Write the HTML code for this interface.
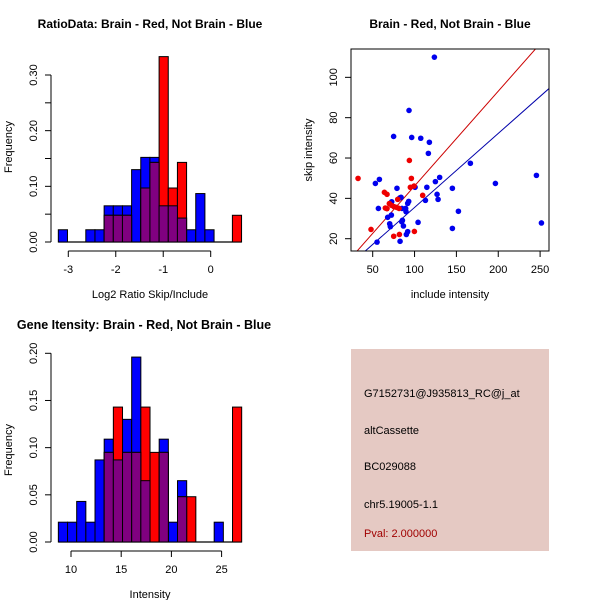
<!DOCTYPE html>
<html><head><meta charset="utf-8"><style>
body{margin:0;background:#fff;}
svg{display:block;font-family:"Liberation Sans",sans-serif;}
text{fill:#000;}
</style></head><body>
<svg id="s" width="600" height="600" xmlns="http://www.w3.org/2000/svg">
<text x="150" y="28" font-size="12" font-weight="bold" text-anchor="middle">RatioData: Brain - Red, Not Brain - Blue</text>
<text x="450" y="28" font-size="12" font-weight="bold" text-anchor="middle">Brain - Red, Not Brain - Blue</text>
<text x="144" y="329" font-size="12.5" font-weight="bold" text-anchor="middle">Gene Itensity: Brain - Red, Not Brain - Blue</text>
<text x="150" y="298" font-size="11" text-anchor="middle">Log2 Ratio Skip/Include</text>
<text x="0" y="0" font-size="11" text-anchor="middle" transform="translate(12,147) rotate(-90)">Frequency</text>
<text x="450" y="298" font-size="11" text-anchor="middle">include intensity</text>
<text x="0" y="0" font-size="11" text-anchor="middle" transform="translate(312,150) rotate(-90)">skip intensity</text>
<text x="150" y="598" font-size="11" text-anchor="middle">Intensity</text>
<text x="0" y="0" font-size="11" text-anchor="middle" transform="translate(12,450) rotate(-90)">Frequency</text>
<g id="h1"></g>
<g id="sc"></g>
<g id="h2"></g>
<g>
<rect x="351" y="349" width="198" height="202" fill="#e5c9c3"/>
<text x="364" y="397" font-size="11">G7152731@J935813_RC@j_at</text>
<text x="364" y="434" font-size="11">altCassette</text>
<text x="364" y="470" font-size="11">BC029088</text>
<text x="364" y="508" font-size="11">chr5.19005-1.1</text>
<text x="364" y="537" font-size="11" fill="#a00000" style="fill:#a00000">Pval: 2.000000</text>
</g>
</svg>
<script>
// ---- Ratio histogram data ----
const ratioBinStart = -3.21;
const ratioBinWidth = 0.193;
const ratioBlue = [0.022,0,0,0.022,0.022,0.065,0.065,0.065,0.13,0.152,0.152,0.065,0.065,0.043,0.022,0.087,0.022,0,0,0];
const ratioRed = [0,0,0,0,0,0.048,0.048,0.048,0,0.097,0.143,0.333,0.097,0.143,0,0,0,0,0,0.048];
const ratioXTicks = [-3,-2,-1,0];
const ratioYTicks = [0,0.05,0.10,0.15,0.20,0.25,0.30];
const ratioYLabels = ["0.00","","0.10","","0.20","","0.30"];
// ---- Intensity histogram data ----
const intBinStart = 8.74;
const intBinWidth = 0.913;
const intBlue = [0.021,0.021,0.043,0.021,0.087,0.109,0.087,0.130,0.196,0.065,0,0.109,0.021,0.065,0,0,0,0.021,0,0];
const intRed = [0,0,0,0,0,0.095,0.143,0.095,0.095,0.143,0.095,0.095,0,0.048,0.048,0,0,0,0,0.143];
const intXTicks = [10,15,20,25];
const intYTicks = [0,0.05,0.10,0.15,0.20];
const intYLabels = ["0.00","0.05","0.10","0.15","0.20"];
// ---- Scatter data ----
const blueX = [123.7,93.4,75,96.6,107.4,117.7,116.5,166.7,245.6,196.6,53.2,58,130,124.9,145.2,114.7,100.6,79,83.9,82.3,126.9,128.1,113,56.8,72.7,89.4,91.8,93,85,89.8,152.4,72.3,67.9,70.3,71.1,86.7,84.7,85.5,104.2,251.6,145.2,91.8,90.2,55.2,82.7];
const blueY = [110,83.6,70.7,70.2,69.8,67.8,62.3,57.4,51.4,47.4,47.4,49.4,50.4,48.3,45,45.5,45.5,45,40.5,40.2,42,39.5,39,35,38.3,35,37.5,38.5,35,33.4,33.6,31.7,30.6,27.4,26,26.3,28.4,29.1,28.1,27.8,25.1,23.5,22.1,18.3,18.7];
const redX = [32.5,48,64,67.1,65.1,67.1,69.9,72.7,75.5,78.7,79.9,81.5,75.1,81.9,93.8,96.2,95,99.4,109.7,99.8];
const redY = [49.9,24.6,43,42,35.2,34.9,37.4,36.5,35.9,35.5,39.5,35,21.2,22.1,58.8,49.9,45.5,46.1,41.5,23.6];
const redFit = [-0.85,0.47];
const blueFit = [-1.2,0.367];
const scXTicks = [50,100,150,200,250];
const scYTicks = [20,40,60,80,100];

const NS="http://www.w3.org/2000/svg";
function mk(parent,tag,attrs){const e=document.createElementNS(NS,tag);for(const k in attrs)e.setAttribute(k,attrs[k]);parent.appendChild(e);return e;}

function hist(gid,start,width,blue,red,xs,ys,yl,xMap,yMap,axisY,yAxisX,prefix){
  const g=document.getElementById(gid);
  const n=blue.length;
  let bl=mk(g,'line',{x1:xMap(start),x2:xMap(start+n*width),y1:yMap(0),y2:yMap(0),stroke:'#000','stroke-width':1.2});
  
  
  const layers=[[blue,'#0000ff','blue'],[red,'#ff0000','red']];
  for(const [vals,col,nm] of layers){
    for(let i=0;i<n;i++){
      if(vals[i]<=0)continue;
      const x0=xMap(start+i*width),x1=xMap(start+(i+1)*width);
      const r=mk(g,'rect',{x:x0,y:yMap(vals[i]),width:x1-x0,height:yMap(0)-yMap(vals[i]),fill:col,stroke:'#000','stroke-width':1});
      
      
    }
  }
  for(let i=0;i<n;i++){
    const v=Math.min(blue[i],red[i]);
    if(v<=0)continue;
    const x0=xMap(start+i*width),x1=xMap(start+(i+1)*width);
    const r=mk(g,'rect',{x:x0,y:yMap(v),width:x1-x0,height:yMap(0)-yMap(v),fill:'#800080',stroke:'#000','stroke-width':1});
    
    
  }
  let xa=mk(g,'line',{x1:xMap(xs[0]),x2:xMap(xs[xs.length-1]),y1:axisY,y2:axisY,stroke:'#000'});
  
  
  for(const t of xs){
    mk(g,'line',{x1:xMap(t),x2:xMap(t),y1:axisY,y2:axisY+6,stroke:'#000'});
    const tx=mk(g,'text',{x:xMap(t),y:axisY+22,'font-size':11,'text-anchor':'middle'});
    tx.textContent=String(t);
    
    
  }
  let ya=mk(g,'line',{x1:yAxisX,x2:yAxisX,y1:yMap(ys[0]),y2:yMap(ys[ys.length-1]),stroke:'#000'});
  
  
  ys.forEach((t,i)=>{
    mk(g,'line',{x1:yAxisX-6,x2:yAxisX,y1:yMap(t),y2:yMap(t),stroke:'#000'});
    if(yl[i]){
      const tx=mk(g,'text',{x:0,y:0,'font-size':11,'text-anchor':'middle',transform:`translate(${yAxisX-14},${yMap(t)}) rotate(-90)`});
      tx.textContent=yl[i];
      
      
    }
  });
}
hist('h1',ratioBinStart,ratioBinWidth,ratioBlue,ratioRed,ratioXTicks,ratioYTicks,ratioYLabels,
  v=>210.7+v*47.47, v=>242-v*556.7, 251, 51, 'ratio');
hist('h2',intBinStart,intBinWidth,intBlue,intRed,intXTicks,intYTicks,intYLabels,
  v=>71+(v-10)*10.04, v=>542-v*943.5, 551, 51, 'intensity');

(function(){
  const g=document.getElementById('sc');
  const L=351,R=549,T=49,B=251;
  const xMap=v=>372.7+(v-50)*0.837, yMap=v=>238.7-(v-20)*2.017;
  const xInv=p=>50+(p-372.7)/0.837;
  const cp=mk(g,'clipPath',{id:'scclip'});mk(cp,'rect',{x:L,y:T,width:R-L,height:B-T});
  for(const [fit,col,nm] of [[redFit,'#cc0000','red'],[blueFit,'#0000aa','blue']]){
    const xa=xInv(L),xb=xInv(R);
    const l=mk(g,'line',{x1:L,x2:R,y1:yMap(fit[0]+fit[1]*xa),y2:yMap(fit[0]+fit[1]*xb),stroke:col,'stroke-width':1,'clip-path':'url(#scclip)'});
    
    
  }
  blueX.forEach((x,i)=>{const c=mk(g,'circle',{cx:xMap(x),cy:yMap(blueY[i]),r:2.8,fill:'#0000ee'});
    
    });
  redX.forEach((x,i)=>{const c=mk(g,'circle',{cx:xMap(x),cy:yMap(redY[i]),r:2.8,fill:'#ee0000'});
    
    });
  const box=mk(g,'rect',{x:L,y:T,width:R-L,height:B-T,fill:'none',stroke:'#000'});
  
  
  for(const t of scXTicks){
    mk(g,'line',{x1:xMap(t),x2:xMap(t),y1:B,y2:B+6,stroke:'#000'});
    const tx=mk(g,'text',{x:xMap(t),y:B+22,'font-size':11,'text-anchor':'middle'});tx.textContent=t;
    
    
  }
  for(const t of scYTicks){
    mk(g,'line',{x1:L-6,x2:L,y1:yMap(t),y2:yMap(t),stroke:'#000'});
    const tx=mk(g,'text',{x:0,y:0,'font-size':11,'text-anchor':'middle',transform:`translate(${L-14},${yMap(t)}) rotate(-90)`});tx.textContent=t;
    
    
  }
})();
</script>
</body></html>
